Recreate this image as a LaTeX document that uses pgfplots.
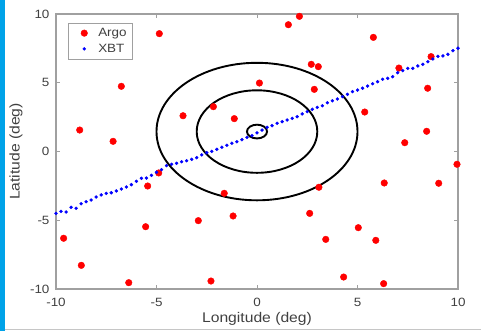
\documentclass[border=0pt]{standalone}
\usepackage{pgfplots}
\pgfplotsset{compat=1.18}
\usepackage{fontspec}
\setmainfont{Liberation Sans}[FakeStretch=1.12]

\definecolor{axgray}{RGB}{160,160,160}
\definecolor{txtgray}{RGB}{64,64,64}
\definecolor{edgeblue}{RGB}{0,162,232}

% Argo float positions (lon, lat)
\pgfplotstableread{
x y
-4.86 8.57
-6.75 4.74
-8.82 1.56
-7.16 0.74
-3.68 2.60
-2.17 3.26
-1.13 2.39
2.11 9.83
1.56 9.22
5.79 8.30
8.66 6.90
2.70 6.34
3.05 6.17
7.06 6.07
0.12 4.98
2.85 4.52
8.49 4.60
5.36 2.87
8.44 1.47
7.35 0.64
-4.89 -1.56
-5.44 -2.51
-1.63 -3.04
-2.92 -5.03
-1.19 -4.69
-5.54 -5.47
-9.62 -6.31
-8.74 -8.28
-6.38 -9.54
-2.29 -9.42
9.95 -0.93
6.33 -2.29
9.04 -2.31
3.08 -2.60
2.62 -4.50
5.04 -5.54
3.42 -6.39
5.91 -6.46
4.31 -9.13
6.30 -9.61
}\argo

% XBT transect
\pgfplotstableread{
x y
-10 -4.50
-9.75 -4.35
-9.5 -4.40
-9.25 -4.06
-9 -4.13
-8.75 -3.80
-8.5 -3.65
-8.25 -3.53
-8 -3.31
-7.75 -3.16
-7.5 -3.04
-7.25 -3.00
-7 -2.87
-6.75 -2.73
-6.5 -2.58
-6.25 -2.41
-6 -2.17
-5.75 -1.95
-5.5 -1.93
-5.25 -1.73
-5 -1.51
-4.75 -1.32
-4.5 -1.03
-4.25 -0.93
-4 -0.86
-3.75 -0.74
-3.5 -0.67
-3.25 -0.57
-3 -0.45
-2.75 -0.25
-2.5 -0.09
-2.25 0.01
-2 0.16
-1.75 0.31
-1.5 0.45
-1.25 0.60
-1 0.71
-0.75 0.86
-0.5 1.03
-0.25 1.15
0 1.35
0.25 1.56
0.5 1.76
0.75 1.88
1 2.05
1.25 2.17
1.5 2.29
1.75 2.41
2 2.53
2.25 2.73
2.5 2.90
2.75 3.07
3 3.21
3.25 3.33
3.5 3.55
3.75 3.69
4 3.82
4.25 3.99
4.5 4.16
4.75 4.35
5 4.47
5.25 4.60
5.5 4.76
5.75 4.93
6 5.08
6.25 5.25
6.5 5.32
6.75 5.44
7 5.73
7.25 5.88
7.5 6.05
7.75 6.05
8 6.22
8.25 6.34
8.5 6.53
8.75 6.73
9 6.92
9.25 6.95
9.5 7.07
9.75 7.33
10 7.51
}\xbt

\begin{document}
\begin{tikzpicture}[x=1pt,y=1pt]
\path[use as bounding box] (0,0) rectangle (481,331);
\fill[edgeblue] (0,0) rectangle (4.5,331);
\draw[axgray!60,line width=0.8pt] (5,2) -- (481,2);
\begin{axis}[
  at={(56pt,42pt)}, anchor=south west,
  scale only axis, width=402pt, height=275pt,
  xmin=-10, xmax=10, ymin=-10, ymax=10,
  xtick={-10,-5,0,5,10}, ytick={-10,-5,0,5,10},
  xticklabels={-10,-5,0,5,10}, yticklabels={-10,-5,0,5,10},
  tick align=inside, major tick length=4pt,
  axis line style={axgray, line width=1.1pt},
  tick style={axgray, line width=0.9pt},
  ticklabel style={font=\fontsize{12}{14}\selectfont, text=txtgray},
  xticklabel style={yshift=-6pt},
  yticklabel style={xshift=-3pt},
  xlabel={Longitude (deg)}, ylabel={Latitude (deg)},
  label style={font=\fontsize{14}{16}\selectfont, text=txtgray},
  xlabel style={at={(axis description cs:0.5,-0.109)}, anchor=center},
  ylabel style={at={(axis description cs:-0.0995,0.5)}, anchor=center},
  clip=false,
  legend style={at={(axis description cs:0.030,0.967)}, anchor=north west,
    font=\fontsize{12}{14}\selectfont, text=txtgray, draw=axgray,
    fill=white, row sep=2pt, inner xsep=4pt, inner ysep=3pt,
    nodes={inner sep=2pt}},
  legend cell align=left,
  legend image code/.code={%
    \path[draw=none, fill=none] (0pt,-3pt) rectangle (24pt,3pt);
    \draw[mark repeat=2,mark phase=2,#1]
      plot coordinates {(0pt,0pt) (12pt,0pt) (24pt,0pt)};},
]
\draw[black, line width=1.9pt] (axis cs:0,1.45) ellipse [x radius=5, y radius=5];
\draw[black, line width=1.9pt] (axis cs:0,1.45) ellipse [x radius=3, y radius=3];
\draw[black, line width=1.9pt] (axis cs:0,1.45) ellipse [x radius=0.5, y radius=0.5];
\addplot[only marks, mark=*, mark size=3.3pt, draw=red, fill=red] table {\argo};
\addlegendentry{Argo}
\addplot[only marks, mark=*, mark size=1.5pt, draw=blue, fill=blue] table {\xbt};
\addlegendentry{XBT}
\end{axis}
\end{tikzpicture}
\end{document}
